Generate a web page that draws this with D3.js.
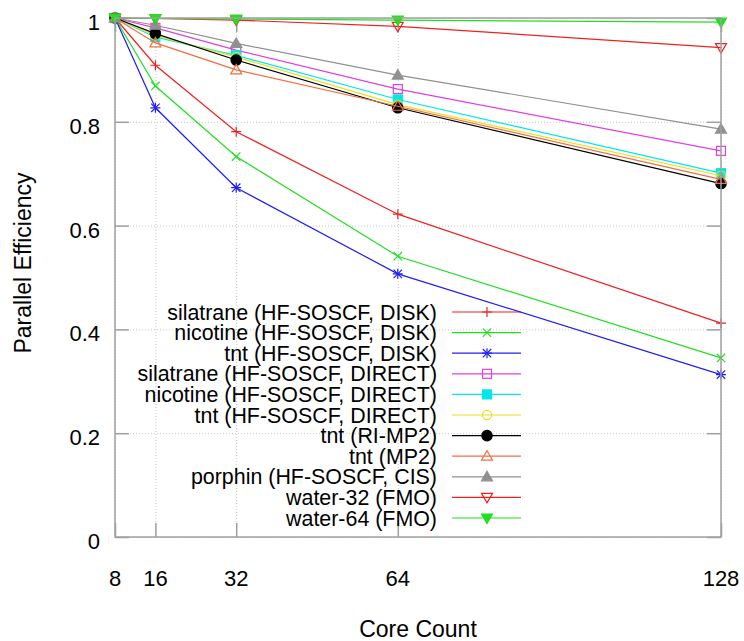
<!DOCTYPE html>
<html>
<head>
<meta charset="utf-8">
<script src="https://cdn.jsdelivr.net/npm/d3@7"></script>
<style>
  body { margin: 0; background: #fff; }
  text { font-family: "Liberation Sans", Arial, sans-serif; fill: #000; }
</style>
</head>
<body>
<div id="chart"></div>
<script>
// core counts and efficiency values
var cores = [8, 16, 32, 64, 128]
var x_ticks = [8, 16, 32, 64, 128]
var y_ticks = [0, 0.2, 0.4, 0.6, 0.8, 1]

var names = [
    "silatrane (HF-SOSCF, DISK)",
    "nicotine (HF-SOSCF, DISK)",
    "tnt (HF-SOSCF, DISK)",
    "silatrane (HF-SOSCF, DIRECT)",
    "nicotine (HF-SOSCF, DIRECT)",
    "tnt (HF-SOSCF, DIRECT)",
    "tnt (RI-MP2)",
    "tnt (MP2)",
    "porphin (HF-SOSCF, CIS)",
    "water-32 (FMO)",
    "water-64 (FMO)"
]

var silatrane_disk = [1, 0.909, 0.781, 0.622, 0.412]
var nicotine_disk = [1, 0.869, 0.733, 0.541, 0.345]
var tnt_disk = [1, 0.827, 0.673, 0.507, 0.313]
var silatrane_direct = [1, 0.981, 0.938, 0.863, 0.744]
var nicotine_direct = [1, 0.963, 0.928, 0.843, 0.701]
var tnt_direct = [1, 0.966, 0.925, 0.833, 0.696]
var tnt_rimp2 = [1, 0.970, 0.919, 0.827, 0.681]
var tnt_mp2 = [1, 0.952, 0.900, 0.830, 0.689]
var porphin_cis = [1, 0.986, 0.951, 0.890, 0.786]
var water_32 = [1, 0.999, 0.996, 0.984, 0.943]
var water_64 = [1, 0.999, 0.998, 0.996, 0.992]

var all_series = [silatrane_disk, nicotine_disk, tnt_disk, silatrane_direct, nicotine_direct,
    tnt_direct, tnt_rimp2, tnt_mp2, porphin_cis, water_32, water_64]

var colors = ["#f02020", "#20e020", "#2020f0", "#e040e0", "#00e8e8", "#e8e020",
    "#000000", "#f07040", "#909090", "#f02020", "#20e020"]
var markers = ["plus", "cross", "star", "square", "squareF", "circle", "circleF",
    "tri", "triF", "triDown", "triDownF"]

var width = 744
var height = 641
// note: "top" clashes with window.top, so plot_* names
var plot_left = 115, plot_right = 721, plot_top = 18, plot_bottom = 537

var svg = d3.select("#chart").append("svg")
    .attr("width", width)
    .attr("height", height)

var x = d3.scaleLinear().domain([8, 128]).range([plot_left, plot_right])
var y = d3.scaleLinear().domain([0, 1]).range([plot_bottom, plot_top])

// grid
svg.append("g")
    .attr("transform", "translate(0," + plot_bottom + ")")
    .call(d3.axisBottom(x).tickValues(x_ticks).tickSize(-(plot_bottom - plot_top)).tickFormat(""))
    .call(g => g.select(".domain").remove())
    .selectAll("line").attr("stroke", "#c8c8c8").attr("stroke-dasharray", "1,2")
svg.append("g")
    .attr("transform", "translate(" + plot_left + ",0)")
    .call(d3.axisLeft(y).tickValues(y_ticks).tickSize(-(plot_right - plot_left)).tickFormat(""))
    .call(g => g.select(".domain").remove())
    .selectAll("line").attr("stroke", "#c8c8c8").attr("stroke-dasharray", "1,2")

// inward ticks on all four sides
var tick_len = 14
function ticks(axis, tx) {
    svg.append("g")
        .attr("transform", tx)
        .call(axis)
        .call(g => g.select(".domain").remove())
        .selectAll("line").attr("stroke", "#a0a0a0").attr("stroke-width", 1.5)
}
ticks(d3.axisBottom(x).tickValues(x_ticks).tickSize(-tick_len).tickFormat(""), "translate(0," + plot_bottom + ")")
ticks(d3.axisTop(x).tickValues(x_ticks).tickSize(-tick_len).tickFormat(""), "translate(0," + plot_top + ")")
ticks(d3.axisLeft(y).tickValues(y_ticks).tickSize(-tick_len).tickFormat(""), "translate(" + plot_left + ",0)")
ticks(d3.axisRight(y).tickValues(y_ticks).tickSize(-tick_len).tickFormat(""), "translate(" + plot_right + ",0)")

// tick labels
svg.append("g").selectAll("text")
    .data(x_ticks).join("text")
    .attr("x", d => x(d))
    .attr("y", 586)
    .attr("text-anchor", "middle")
    .style("font-size", "22px")
    .text(d => d)
svg.append("g").selectAll("text")
    .data(y_ticks).join("text")
    .attr("x", 100)
    .attr("y", d => y(d) + 12)
    .attr("text-anchor", "end")
    .style("font-size", "22px")
    .text(d => d3.format("")(d))

// axis titles
svg.append("text")
    .attr("x", (plot_left + plot_right) / 2)
    .attr("y", 637)
    .attr("text-anchor", "middle")
    .style("font-size", "23px")
    .text("Core Count")
svg.append("text")
    .attr("transform", "translate(31,263) rotate(-90)")
    .attr("text-anchor", "middle")
    .style("font-size", "23px")
    .text("Parallel Efficiency")

function drawMarker(g, type, cx, cy, color) {
    var s = 5
    if (type == "plus" || type == "star") {
        g.append("path").attr("d", `M${cx - s},${cy}H${cx + s}M${cx},${cy - s}V${cy + s}`)
            .attr("stroke", color).attr("stroke-width", 1.2)
    }
    if (type == "cross" || type == "star") {
        var c = 4.2
        g.append("path").attr("d", `M${cx - c},${cy - c}L${cx + c},${cy + c}M${cx - c},${cy + c}L${cx + c},${cy - c}`)
            .attr("stroke", color).attr("stroke-width", 1.2)
    }
    if (type == "square" || type == "squareF") {
        g.append("rect").attr("x", cx - 4.5).attr("y", cy - 4.5).attr("width", 9).attr("height", 9)
            .attr("fill", type == "squareF" ? color : "none").attr("stroke", color).attr("stroke-width", 1.2)
    }
    if (type == "circle" || type == "circleF") {
        g.append("circle").attr("cx", cx).attr("cy", cy).attr("r", type == "circleF" ? 5.2 : 4.6)
            .attr("fill", type == "circleF" ? color : "none").attr("stroke", color).attr("stroke-width", 1.2)
    }
    if (type == "tri" || type == "triF") {
        g.append("path").attr("d", `M${cx},${cy - 5.5}L${cx + 5.5},${cy + 4}L${cx - 5.5},${cy + 4}Z`)
            .attr("fill", type == "triF" ? color : "none").attr("stroke", color).attr("stroke-width", 1.2)
    }
    if (type == "triDown" || type == "triDownF") {
        g.append("path").attr("d", `M${cx},${cy + 5.5}L${cx + 5.5},${cy - 4}L${cx - 5.5},${cy - 4}Z`)
            .attr("fill", type == "triDownF" ? color : "none").attr("stroke", color).attr("stroke-width", 1.2)
    }
}

var line = d3.line()
    .x((d, i) => x(cores[i]))
    .y(d => y(d))

var legend_x = 437, legend_y = 312, legend_step = 20.6

all_series.forEach((values, k) => {
    var g = svg.append("g")
    // legend entry
    var ly = legend_y + k * legend_step
    g.append("text")
        .attr("x", legend_x)
        .attr("y", ly + 7.5)
        .attr("text-anchor", "end")
        .style("font-size", "21.4px")
        .text(names[k])
    g.append("line")
        .attr("x1", 452).attr("x2", 521)
        .attr("y1", ly).attr("y2", ly)
        .attr("stroke", colors[k]).attr("stroke-width", 1.2)
    drawMarker(g, markers[k], 487, ly, colors[k])

    // series line and points
    g.append("path")
        .datum(values)
        .attr("fill", "none")
        .attr("stroke", colors[k])
        .attr("stroke-width", 1.2)
        .attr("d", line)
    values.forEach((v, i) => drawMarker(g, markers[k], x(cores[i]), y(v), colors[k]))
})

// border
svg.append("rect")
    .attr("x", plot_left).attr("y", plot_top)
    .attr("width", plot_right - plot_left).attr("height", plot_bottom - plot_top)
    .attr("fill", "none")
    .attr("stroke", "#a0a0a0")
    .attr("stroke-width", 1.5)
</script>
</body>
</html>
